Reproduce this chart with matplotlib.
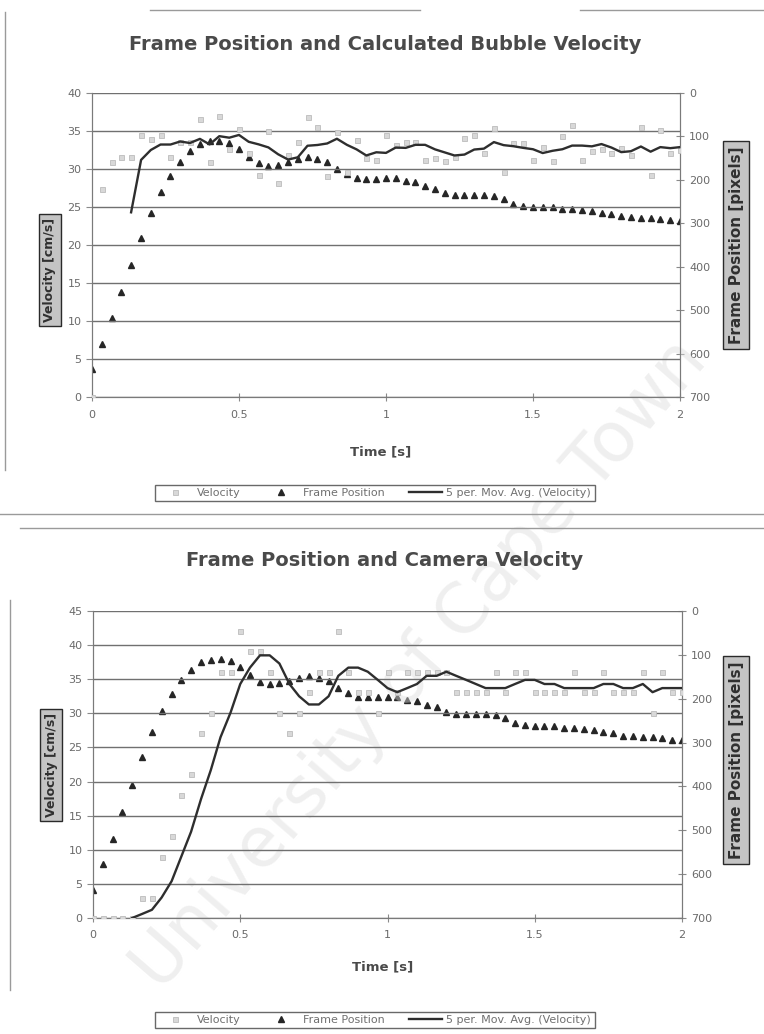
import matplotlib
matplotlib.use('Agg')
import matplotlib.pyplot as plt
import numpy as np
import pandas as pd
from matplotlib.lines import Line2D

# ---------------- data ----------------
time_s = [0.000, 0.033, 0.067, 0.100, 0.133, 0.167, 0.200, 0.233, 0.267, 0.300,
          0.333, 0.367, 0.400, 0.433, 0.467, 0.500, 0.533, 0.567, 0.600, 0.633,
          0.667, 0.700, 0.733, 0.767, 0.800, 0.833, 0.867, 0.900, 0.933, 0.967,
          1.000, 1.033, 1.067, 1.100, 1.133, 1.167, 1.200, 1.233, 1.267, 1.300,
          1.333, 1.367, 1.400, 1.433, 1.467, 1.500, 1.533, 1.567, 1.600, 1.633,
          1.667, 1.700, 1.733, 1.767, 1.800, 1.833, 1.867, 1.900, 1.933, 1.967,
          2.000]

frame_position = [636, 578, 519, 458, 397, 334, 276, 227, 190, 158,
                  134, 117, 111, 110, 115, 128, 147, 161, 167, 165,
                  160, 153, 148, 152, 160, 175, 187, 196, 197, 197,
                  195, 196, 202, 205, 215, 220, 230, 235, 235, 235,
                  235, 238, 243, 255, 260, 262, 263, 263, 266, 266,
                  269, 272, 276, 279, 284, 285, 287, 287, 290, 293,
                  295]

bubble_velocity = [0.0, 27.4, 30.9, 31.6, 31.6, 34.5, 33.9, 34.5, 31.6, 33.6,
                   33.5, 36.6, 30.9, 37.0, 32.6, 35.3, 32.1, 29.2, 35.0, 28.1,
                   31.8, 33.6, 36.8, 35.5, 29.1, 34.9, 29.6, 33.8, 31.5, 31.2,
                   34.5, 33.1, 33.6, 33.5, 31.2, 31.5, 31.1, 31.6, 34.1, 34.5,
                   32.1, 35.4, 29.6, 33.4, 33.4, 31.2, 32.9, 31.1, 34.4, 35.8,
                   31.2, 32.4, 32.6, 32.1, 32.8, 31.8, 35.5, 29.2, 35.1, 32.1,
                   32.5]

camera_velocity = [0.0, 0.0, 0.0, 0.0, 0.0, 3.0, 3.0, 9.0, 12.0, 18.1,
                   21.1, 27.1, 30.1, 36.1, 36.1, 42.1, 39.1, 39.1, 36.1, 30.1,
                   27.1, 30.1, 33.1, 36.1, 36.1, 42.1, 36.1, 33.1, 33.1, 30.1,
                   36.1, 33.1, 36.1, 36.1, 36.1, 36.1, 36.1, 33.1, 33.1, 33.1,
                   33.1, 36.1, 33.1, 36.1, 36.1, 33.1, 33.1, 33.1, 33.1, 36.1,
                   33.1, 33.1, 36.1, 33.1, 33.1, 33.1, 36.1, 30.1, 36.1, 33.1,
                   33.1]

x_ticks = [0, 0.5, 1, 1.5, 2]
x_ticklabels = ['0', '0.5', '1', '1.5', '2']
pos_ticks = [0, 100, 200, 300, 400, 500, 600, 700]

titles = ['Frame Position and Calculated Bubble Velocity',
          'Frame Position and Camera Velocity']
legend_labels = ['Velocity', 'Frame Position', '5 per. Mov. Avg. (Velocity)']

# ---------------- figure ----------------
W, H = 764, 1034
fig = plt.figure(figsize=(W / 100, H / 100), dpi=100)
fig.patch.set_facecolor('white')


def fx(px):
    return px / W


def fy(py):
    return 1 - py / H


TXT = '#6a6a6a'
GRID = '#707070'


def make_panel(rect, velocity, vmax, title, title_y, xlabel_y, legend_y,
               vlabel_xy, plabel_xy):
    x0, y0, x1, y1 = rect
    ax = fig.add_axes([fx(x0), fy(y1), fx(x1) - fx(x0), fy(y0) - fy(y1)])
    ax2 = ax.twinx()
    ax.set_zorder(ax2.get_zorder() + 1)
    ax.patch.set_visible(False)

    ax.set_xlim(0, 2)
    ax.set_ylim(0, vmax)
    ax.set_yticks(np.arange(0, vmax + 0.1, 5))
    ax.set_xticks(x_ticks)
    ax.set_xticklabels(x_ticklabels)
    ax.yaxis.grid(True, color=GRID, linewidth=1.0)
    ax.set_axisbelow(True)

    ax2.set_ylim(700, 0)
    ax2.set_yticks(pos_ticks)

    for a in (ax, ax2):
        a.spines['top'].set_visible(False)
        for s in ('left', 'right', 'bottom'):
            a.spines[s].set_color('#7a7a7a')
        a.tick_params(colors='#8a8a8a', labelcolor=TXT, labelsize=8,
                      length=4, width=0.8)
    ax.tick_params(axis='x', direction='inout', length=6, pad=6)
    ax.tick_params(axis='y', direction='out', length=4)
    ax2.tick_params(axis='y', direction='inout', length=6)

    # data
    vel = pd.Series(velocity)
    ma = vel.rolling(5).mean()
    h_v, = ax.plot(time_s, velocity, linestyle='none', marker='s', markersize=3.6,
                   markerfacecolor='#d8d8d8', markeredgecolor='#bcbcbc',
                   markeredgewidth=0.6, zorder=3)
    h_p, = ax2.plot(time_s, frame_position, linestyle='none', marker='^',
                    markersize=5, markerfacecolor='#262626',
                    markeredgecolor='#262626', zorder=4)
    h_m, = ax.plot(time_s, ma, color='#2e2e2e', linewidth=1.7, zorder=5)

    fig.text(fx(385), fy(title_y), title, ha='center', va='center',
             fontsize=14, fontweight='bold', color='#4a4a4a')
    fig.text(fx((x0 + x1) / 2 - 5), fy(xlabel_y), 'Time [s]', ha='center',
             va='center', fontsize=9.5, fontweight='bold', color='#4a4a4a')

    box = dict(boxstyle='square,pad=0.35', facecolor='#c4c4c4',
               edgecolor='#2a2a2a', linewidth=1.0)
    fig.text(fx(vlabel_xy[0]), fy(vlabel_xy[1]), 'Velocity [cm/s]',
             rotation=90, ha='center', va='center', fontsize=9,
             fontweight='bold', color='#303030', bbox=box)
    fig.text(fx(plabel_xy[0]), fy(plabel_xy[1]), 'Frame Position [pixels]',
             rotation=90, ha='center', va='center', fontsize=11,
             fontweight='bold', color='#303030', bbox=box)

    leg = fig.legend([h_v, h_p, h_m], legend_labels, ncol=3,
                     loc='center', bbox_to_anchor=(fx(375), fy(legend_y)),
                     fontsize=8, frameon=True, fancybox=False,
                     handlelength=3.0, handletextpad=0.4, columnspacing=2.2,
                     borderpad=0.3)
    leg.get_frame().set_edgecolor('#444444')
    leg.get_frame().set_linewidth(1.0)
    for t in leg.get_texts():
        t.set_color('#707070')
    return ax, ax2


make_panel((92, 93, 680, 397), bubble_velocity, 40, titles[0], 45, 452, 493,
           (50, 270), (736, 245))
make_panel((93, 611, 682, 918), camera_velocity, 45, titles[1], 560, 967, 1020,
           (51, 765), (736, 760))

# chart-area borders of the scanned document
for (xa, ya, xb, yb) in [(5, 12, 5, 470), (150, 10, 420, 10), (580, 10, 764, 10),
                         (0, 514, 764, 514), (20, 528, 764, 528),
                         (10, 600, 10, 990)]:
    fig.add_artist(Line2D([fx(xa), fx(xb)], [fy(ya), fy(yb)],
                          color='#9a9a9a', linewidth=1.0))

# watermark
fig.text(fx(420), fy(665), 'University of Cape Town', rotation=49,
         ha='center', va='center', fontsize=50, color='#dcdcdc', alpha=0.45,
         zorder=0)

fig.savefig('out.png', dpi=100, facecolor='white')
